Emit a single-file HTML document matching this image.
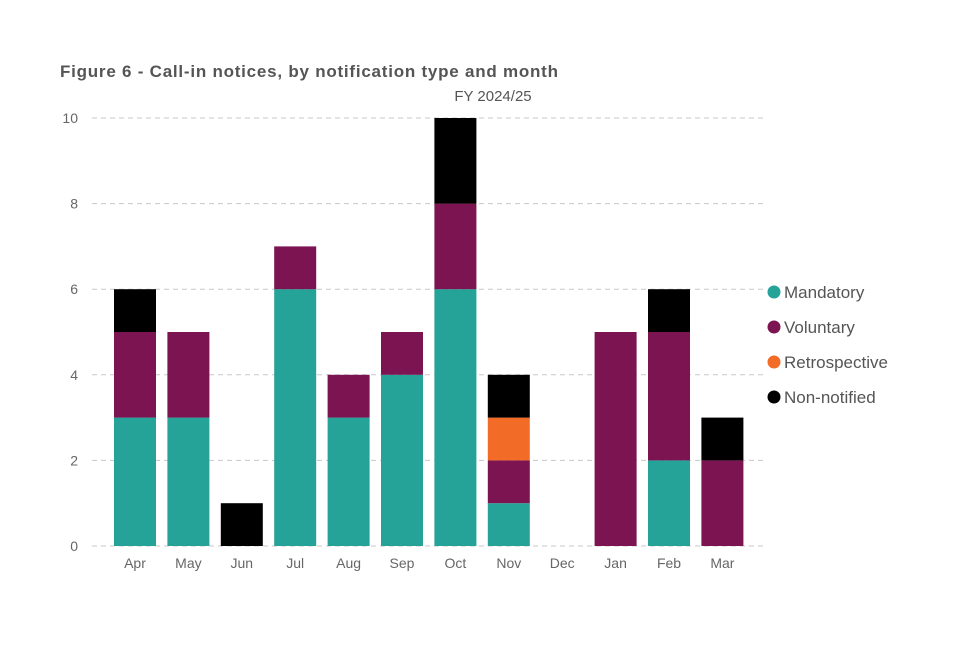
<!DOCTYPE html>
<html><head><meta charset="utf-8"><style>
body{margin:0;background:#fff;width:960px;height:640px;overflow:hidden;font-family:"Liberation Sans",sans-serif}
</style></head><body>
<svg width="960" height="640">
<text x="60" y="77" font-size="17" font-weight="bold" fill="#555" textLength="498" lengthAdjust="spacing">Figure 6 - Call-in notices, by notification type and month</text>
<text x="493" y="101" font-size="15" fill="#555" text-anchor="middle">FY 2024/25</text>
<g id="grid"></g><g id="bars"></g><g id="labels"></g><g id="legend"></g>
</svg>
<script>
const months=["Apr","May","Jun","Jul","Aug","Sep","Oct","Nov","Dec","Jan","Feb","Mar"];
const mandatory=[3,3,0,6,3,4,6,1,0,0,2,0];
const voluntary=[2,2,0,1,1,1,2,1,0,5,3,2];
const retrospective=[0,0,0,0,0,0,0,1,0,0,0,0];
const nonNotified=[1,0,1,0,0,0,2,1,0,0,1,1];
const yTicks=[0,2,4,6,8,10];
const seriesNames=["Mandatory","Voluntary","Retrospective","Non-notified"];
const colors=["#26a398","#7b1450","#f26b27","#000000"];
const NS="http://www.w3.org/2000/svg";
const y=v=>546-v*42.8;
const x=i=>135+i*53.4;
const bw=42;
function mk(tag,attrs,parent,text){const e=document.createElementNS(NS,tag);for(const k in attrs)e.setAttribute(k,attrs[k]);if(text!==undefined)e.textContent=text;parent.appendChild(e);return e;}
const grid=document.getElementById('grid'),bars=document.getElementById('bars'),labels=document.getElementById('labels'),legend=document.getElementById('legend');
yTicks.forEach(t=>{
 const l=mk('line',{x1:92,x2:765,y1:y(t),y2:y(t),stroke:"#c8c8c8","stroke-dasharray":"5,4","stroke-width":1},grid);
 
 
 const tx=mk('text',{x:78,y:y(t)+5,"font-size":14,fill:"#666","text-anchor":"end"},labels,String(t));
 
 
});
const series=[mandatory,voluntary,retrospective,nonNotified];
months.forEach((m,i)=>{
 let base=0;
 series.forEach((s,k)=>{
  const v=s[i];
  if(v>0){
   const r=mk('rect',{x:x(i)-bw/2,y:y(base+v),width:bw,height:y(base)-y(base+v),fill:colors[k]},bars);
   
   
  }
  base+=v;
 });
 const t=mk('text',{x:x(i),y:568,"font-size":14,fill:"#666","text-anchor":"middle"},labels,m);
 
 
});
seriesNames.forEach((n,k)=>{
 const cy=292+k*35;
 const c=mk('circle',{cx:774,cy:cy,r:6.5,fill:colors[k]},legend);
 
 
 const t=mk('text',{x:784,y:cy+6,"font-size":17,fill:"#555"},legend,n);
 
 
});
</script>
</body></html>
